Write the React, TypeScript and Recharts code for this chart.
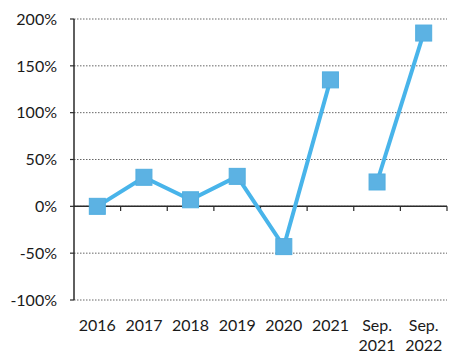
import { LineChart, Line, XAxis, YAxis, CartesianGrid, ReferenceLine } from "recharts";

const categories = ["2016", "2017", "2018", "2019", "2020", "2021", "Sep. 2021", "Sep. 2022"];
const annualValues = [0, 31, 7, 32, -43, 135, null, null];
const septemberValues = [null, null, null, null, null, null, 26, 185];
const yTicks = [-100, -50, 0, 50, 100, 150, 200];

const data = categories.map((label, i) => ({
  x: i + 1,
  label,
  annual: annualValues[i],
  sep: septemberValues[i],
}));

const xTicks = categories.map((_, i) => i + 1);
const boundaries = categories.map((_, i) => i + 1.5);

const LINE = "#48B4EA";
const MARK = "#5CB2E3";
const FONT = "Lato, 'Open Sans', sans-serif";

function SquareDot(props: any) {
  const { cx, cy, index } = props;
  if (cx == null || cy == null) return <g key={index} />;
  return (
    <rect
      key={index}
      x={cx - 8}
      y={cy - 8}
      width={16}
      height={16}
      fill={MARK}
      stroke="#52AEE0"
      strokeWidth={1}
    />
  );
}

function CategoryTick(props: any) {
  const { x, y, payload } = props;
  const label = categories[payload.value - 1] ?? "";
  const lines = label.split(" ");
  return (
    <text x={x} y={y} textAnchor="middle" fill="#1a1a1a" fontFamily={FONT} fontSize={16}>
      {lines.map((line: string, i: number) => (
        <tspan key={i} x={x} dy={i === 0 ? 29 : 20}>
          {line}
        </tspan>
      ))}
    </text>
  );
}

export default function App() {
  return (
    <div style={{ position: "absolute", left: 0, top: 0, width: 456, height: 354, background: "#fff" }}>
      <LineChart width={456} height={354} data={data} margin={{ top: 19, right: 9, left: 0, bottom: 0 }}>
        <CartesianGrid vertical={false} stroke="#666" strokeDasharray="1.5 1.5" strokeWidth={1} />
        <XAxis
          dataKey="x"
          type="number"
          domain={[0.5, 8.5]}
          ticks={xTicks}
          interval={0}
          axisLine={false}
          tickLine={false}
          tickSize={0}
          height={54}
          tick={<CategoryTick />}
        />
        <YAxis
          domain={[-100, 200]}
          ticks={yTicks}
          interval={0}
          width={74}
          axisLine={{ stroke: "#2a2a2a", strokeWidth: 1.5 }}
          tickLine={{ stroke: "#2a2a2a", strokeWidth: 1.2 }}
          tickSize={4}
          tickMargin={13}
          tickFormatter={(v: number) => `${v}%`}
          tick={{ fill: "#1a1a1a", fontFamily: FONT, fontSize: 16 }}
        />
        <ReferenceLine y={0} stroke="#2a2a2a" strokeWidth={1.5} />
        {boundaries.map((b) => (
          <ReferenceLine
            key={b}
            segment={[
              { x: b, y: 0 },
              { x: b, y: -5 },
            ]}
            stroke="#2a2a2a"
            strokeWidth={1.2}
          />
        ))}
        <Line
          dataKey="annual"
          stroke={LINE}
          strokeWidth={4}
          dot={<SquareDot />}
          activeDot={false}
          isAnimationActive={false}
        />
        <Line
          dataKey="sep"
          stroke={LINE}
          strokeWidth={4}
          dot={<SquareDot />}
          activeDot={false}
          isAnimationActive={false}
        />
      </LineChart>
    </div>
  );
}
